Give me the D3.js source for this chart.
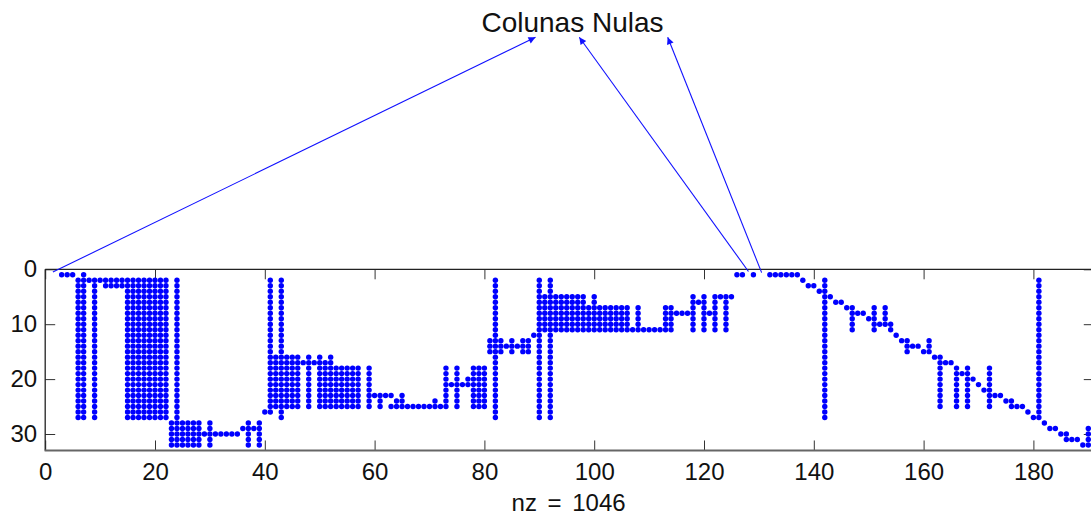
<!DOCTYPE html>
<html>
<head>
<meta charset="utf-8">
<script src="https://cdn.jsdelivr.net/npm/d3@7"></script>
<style>
  body { margin: 0; background: #fff; }
  text { font-family: "Liberation Sans", Arial, sans-serif; }
</style>
</head>
<body>
<svg id="spy" width="1091" height="515"></svg>
<script>
// matrix size (spy axis goes 0..n+1)
const nRows = 32, nCols = 190;
const nzLabel = 'nz = 1046';
const title = 'Colunas Nulas';

const xTicks = [0, 20, 40, 60, 80, 100, 120, 140, 160, 180];
const yTicks = [0, 10, 20, 30];

// dense blocks of nonzeros: [colFrom, colTo, rowFrom, rowTo]
const blocks = [
  [15, 22, 2, 27], [23, 28, 28, 32], [41, 46, 16, 25], [50, 57, 18, 25],
  [78, 80, 18, 25], [81, 83, 13, 15], [87, 88, 13, 15], [90, 98, 5, 11],
  [99, 106, 7, 11], [113, 114, 7, 11]
];

// vertical runs: [col, rowFrom, rowTo]
const colRuns = [
  [6, 2, 27], [7, 2, 27], [9, 2, 27], [24, 2, 27],
  [30, 28, 32], [37, 28, 32], [39, 28, 32],
  [41, 2, 26], [43, 2, 27], [48, 16, 25], [50, 16, 25], [52, 16, 25], [59, 18, 25],
  [73, 18, 25], [75, 18, 25],
  [82, 2, 27], [85, 13, 15], [90, 2, 27], [92, 2, 27],
  [100, 5, 11], [108, 7, 11],
  [118, 5, 11], [120, 5, 11], [122, 5, 11], [124, 5, 11],
  [142, 2, 27], [147, 7, 11], [151, 7, 11], [153, 7, 10],
  [157, 13, 15], [161, 13, 15],
  [163, 16, 25], [166, 18, 25], [168, 18, 25], [172, 18, 25],
  [181, 2, 27], [190, 29, 32]
];

// horizontal runs: [row, colFrom, colTo]
const rowRuns = [
  [1, 3, 5], [2, 6, 14], [3, 11, 14], [30, 29, 35],
  [17, 41, 52], [23, 59, 63], [25, 63, 72], [21, 73, 77],
  [14, 81, 88], [11, 106, 113], [8, 115, 117], [5, 122, 125],
  [1, 132, 137], [3, 139, 140],
  [6, 144, 145], [7, 146, 147], [8, 148, 149], [10, 152, 154],
  [14, 157, 159], [16, 162, 163], [17, 163, 165], [19, 166, 168],
  [23, 172, 174], [24, 175, 176], [25, 176, 178],
  [29, 183, 184], [30, 185, 186], [31, 186, 188]
];

// isolated nonzeros: [col, row]
const singles = [
  [7, 1], [36, 29], [38, 29], [40, 26],
  [61, 24], [64, 24], [65, 24], [71, 24], [61, 25], [65, 23],
  [77, 20], [89, 12], [119, 6], [121, 8],
  [126, 1], [127, 1], [129, 1],
  [138, 2], [141, 4], [143, 5], [150, 9],
  [154, 11], [155, 12], [156, 13], [160, 15],
  [169, 20], [170, 21], [171, 22],
  [179, 26], [180, 27], [182, 28], [189, 32]
];

// arrows go from the empty columns up to the title: [col, row]
const arrowFrom = [[1.4, 0.5], [128.1, 0.4], [130.5, 0.6]];

// build the set of nonzeros
const nz = new Map();
function add(c, r) { nz.set(c + ',' + r, { c: c, r: r }); }
blocks.forEach(b => {
  for (let c = b[0]; c <= b[1]; c++)
    for (let r = b[2]; r <= b[3]; r++) add(c, r);
});
colRuns.forEach(v => { for (let r = v[1]; r <= v[2]; r++) add(v[0], r); });
rowRuns.forEach(h => { for (let c = h[1]; c <= h[2]; c++) add(c, h[0]); });
singles.forEach(s => add(s[0], s[1]));
const points = Array.from(nz.values());

const svg = d3.select('#spy');
const plotLeft = 45.2, plotTop = 269.3, unit = 5.49;

const x = d3.scaleLinear().domain([0, nCols + 1]).range([plotLeft, plotLeft + (nCols + 1) * unit]);
const y = d3.scaleLinear().domain([0, nRows + 1]).range([plotTop, plotTop + (nRows + 1) * unit]);

const x0 = x.range()[0], x1 = x.range()[1];
const y0 = y.range()[0], y1 = y.range()[1];

// ticks, all pointing inward like matlab
function styleAxis(g) {
  g.select('.domain').remove();
  g.selectAll('.tick line').attr('stroke', '#333').attr('stroke-width', 1);
  g.selectAll('.tick text').attr('fill', '#111').style('font-size', '24px');
}
svg.append('g').attr('transform', `translate(0,${y1})`)
  .call(d3.axisBottom(x).tickValues(xTicks).tickSizeInner(-10).tickSizeOuter(0).tickPadding(12.5))
  .call(styleAxis);
svg.append('g').attr('transform', `translate(0,${y0})`)
  .call(d3.axisTop(x).tickValues(xTicks).tickSizeInner(-10).tickSizeOuter(0).tickFormat(''))
  .call(styleAxis);
svg.append('g').attr('transform', `translate(${x0},0)`)
  .call(d3.axisLeft(y).tickValues(yTicks).tickSizeInner(-10).tickSizeOuter(0).tickPadding(8))
  .call(styleAxis);
svg.append('g').attr('transform', `translate(${x1},0)`)
  .call(d3.axisRight(y).tickValues(yTicks).tickSizeInner(-10).tickSizeOuter(0).tickFormat(''))
  .call(styleAxis);

// frame
svg.append('line').attr('x1', x0).attr('x2', x1).attr('y1', y0).attr('y2', y0)
  .attr('stroke', '#222').attr('stroke-width', 1.3);
svg.append('line').attr('x1', x0).attr('x2', x0).attr('y1', y0).attr('y2', y1)
  .attr('stroke', '#222').attr('stroke-width', 1.3);
svg.append('line').attr('x1', x1).attr('x2', x1).attr('y1', y0).attr('y2', y1)
  .attr('stroke', '#222').attr('stroke-width', 1.3);
svg.append('line').attr('x1', x0 - 0.6).attr('x2', x1).attr('y1', y1).attr('y2', y1)
  .attr('stroke', '#666').attr('stroke-width', 2);

// nonzeros
svg.append('g').selectAll('circle')
  .data(points)
  .enter()
  .append('circle')
  .attr('cx', d => x(d.c))
  .attr('cy', d => y(d.r))
  .attr('r', 2.7)
  .attr('fill', '#0000ff');

// xlabel
svg.append('text')
  .attr('x', (x0 + 1091) / 2 + 0.5)
  .attr('y', 511)
  .attr('text-anchor', 'middle')
  .style('font-size', '24px')
  .style('word-spacing', '4px')
  .attr('fill', '#111')
  .text(nzLabel);

// title + arrows
const titleX = 572.5, titleY = 32;
svg.append('text')
  .attr('x', titleX)
  .attr('y', titleY)
  .attr('text-anchor', 'middle')
  .style('font-size', '28px')
  .attr('fill', '#111')
  .text(title);

const tipOffsets = [-37, 6.8, 95.2];
const tipY = 37.3;
svg.append('defs').append('marker')
  .attr('id', 'head')
  .attr('viewBox', '0 0 10 10')
  .attr('refX', 10).attr('refY', 5)
  .attr('markerWidth', 10).attr('markerHeight', 7)
  .attr('markerUnits', 'userSpaceOnUse')
  .attr('orient', 'auto')
  .append('path')
  .attr('d', 'M0,0 L10,5 L0,10 Z')
  .attr('fill', '#1010ff');

svg.append('g').selectAll('line')
  .data(arrowFrom)
  .enter()
  .append('line')
  .attr('x1', d => x(d[0]))
  .attr('y1', d => y(d[1]))
  .attr('x2', (d, i) => titleX + tipOffsets[i])
  .attr('y2', tipY)
  .attr('stroke', '#1010ff')
  .attr('stroke-width', 1.1)
  .attr('marker-end', 'url(#head)');
</script>
</body>
</html>
